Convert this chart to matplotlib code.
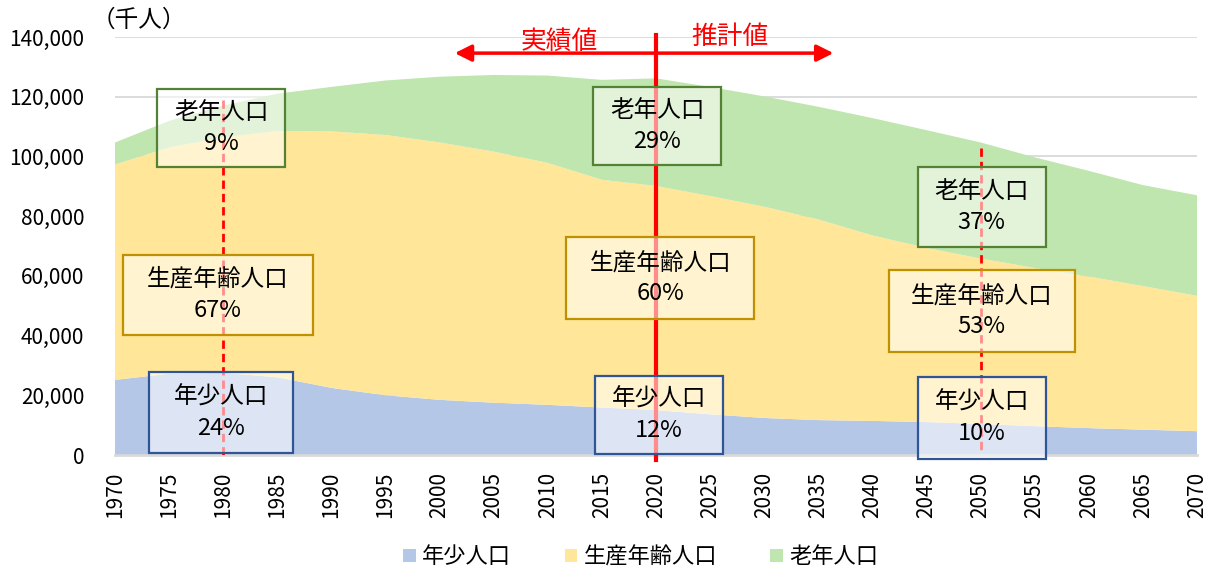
import matplotlib.pyplot as plt
from matplotlib.patches import Patch, Rectangle

plt.rcParams['font.family'] = ['Noto Sans CJK JP', 'DejaVu Sans']

# 千人, 5-year steps (1970-2020 actual, 2025- projection)
years = [1970, 1975, 1980, 1985, 1990, 1995, 2000, 2005, 2010, 2015, 2020,
         2025, 2030, 2035, 2040, 2045, 2050, 2055, 2060, 2065, 2070]
young = [25153, 27221, 27507, 26033, 22486, 20014, 18472, 17521, 16803, 15887, 15032,
         13633, 12397, 11691, 11419, 11027, 10406, 9659, 9010, 8490, 7975]
working = [72119, 75807, 78835, 82506, 85904, 87165, 86220, 84092, 81032, 76289, 75088,
           73101, 70757, 67216, 62133, 58323, 55402, 52988, 50762, 48093, 45350]
elderly = [7393, 8865, 10647, 12468, 14895, 18261, 22005, 25672, 29246, 33465, 36027,
           36529, 36962, 37732, 39285, 39451, 38878, 37041, 35403, 33810, 33671]

group_names = ['年少人口', '生産年齢人口', '老年人口']
group_colors = ['#B4C7E7', '#FFE699', '#BFE6AF']
edge_colors = ['#2F5597', '#BF9000', '#548235']

share_years = [1980, 2020, 2050]
share_pct = {1980: [24, 67, 9], 2020: [12, 60, 29], 2050: [10, 53, 37]}

fig = plt.figure(figsize=(12.09, 5.68), dpi=100)
ax = fig.add_axes([115 / 1209, 1 - 455 / 568, 1082 / 1209, 418 / 568])

ax.stackplot(years, young, working, elderly, colors=group_colors, linewidth=0, zorder=1)

ax.set_xlim(1970, 2070)
ax.set_ylim(0, 140000)
ax.set_xticks(range(1970, 2071, 5))
ax.set_xticklabels([str(y) for y in range(1970, 2071, 5)], rotation=90, fontsize=15)
ax.set_yticks(range(0, 140001, 20000))
ax.set_yticklabels([f'{v:,}' for v in range(0, 140001, 20000)], fontsize=15)
ax.tick_params(axis='both', length=0)
ax.tick_params(axis='y', pad=22)
ax.tick_params(axis='x', pad=12)
ax.set_axisbelow(True)
ax.grid(axis='y', color='#D9D9D9', linewidth=1.3)
for side in ['left', 'right', 'top']:
    ax.spines[side].set_visible(False)
ax.spines['bottom'].set_color('#D9D9D9')
ax.spines['bottom'].set_linewidth(2)

ax.text(-0.022, 1.04, '（千人）', transform=ax.transAxes, fontsize=17, va='center', ha='left')

# actual / projection divider
ax.plot([2020, 2020], [140700, -1700], color='red', linewidth=3, zorder=3, clip_on=False)
ax.annotate('', xy=(2001.4, 134600), xytext=(2036.4, 134600),
            arrowprops=dict(arrowstyle='<|-|>', color='red', lw=2.5,
                            mutation_scale=25, shrinkA=0, shrinkB=0), zorder=3)
ax.text(2011.1, 138500, '実績値', color='red', fontsize=18.5, ha='center', va='center')
ax.text(2026.8, 140000, '推計値', color='red', fontsize=18.5, ha='center', va='center')

# dashed markers for the other reference years
ax.plot([1980, 1980], [118900, 0], color='red', linewidth=2, linestyle=(0, (3, 1.8)), zorder=3)
ax.plot([2050, 2050], [102800, 0], color='red', linewidth=2, linestyle=(0, (3, 1.8)), zorder=3)

# share boxes: (center x, center y, width, height) per group, per year
box_layout = {
    1980: [(1979.8, 14200, 13.3, 27100), (1979.5, 53600, 17.6, 26800), (1979.8, 109500, 11.8, 26100)],
    2020: [(2020.3, 13400, 11.8, 26200), (2020.4, 59200, 17.4, 27500), (2020.1, 110100, 11.8, 26100)],
    2050: [(2050.1, 12400, 11.8, 27400), (2050.1, 48200, 17.2, 27500), (2050.1, 83100, 11.8, 26800)],
}
for yr in share_years:
    for i, name in enumerate(group_names):
        cx, cy, w, h = box_layout[yr][i]
        ax.add_patch(Rectangle((cx - w / 2, cy - h / 2), w, h, facecolor=(1, 1, 1, 0.55),
                               edgecolor=edge_colors[i], linewidth=1.6, zorder=4, clip_on=False))
        ax.text(cx, cy, f'{name}\n{share_pct[yr][i]}%', ha='center', va='center',
                fontsize=17, linespacing=1.45, zorder=5)

handles = [Patch(facecolor=c, edgecolor='none') for c in group_colors]
fig.legend(handles, group_names, loc='center', bbox_to_anchor=(0.53, 0.02), ncol=3,
           frameon=False, fontsize=16, handlelength=0.55, handleheight=0.55,
           handletextpad=0.3, columnspacing=2.4)

fig.savefig('out.png', dpi=100)
